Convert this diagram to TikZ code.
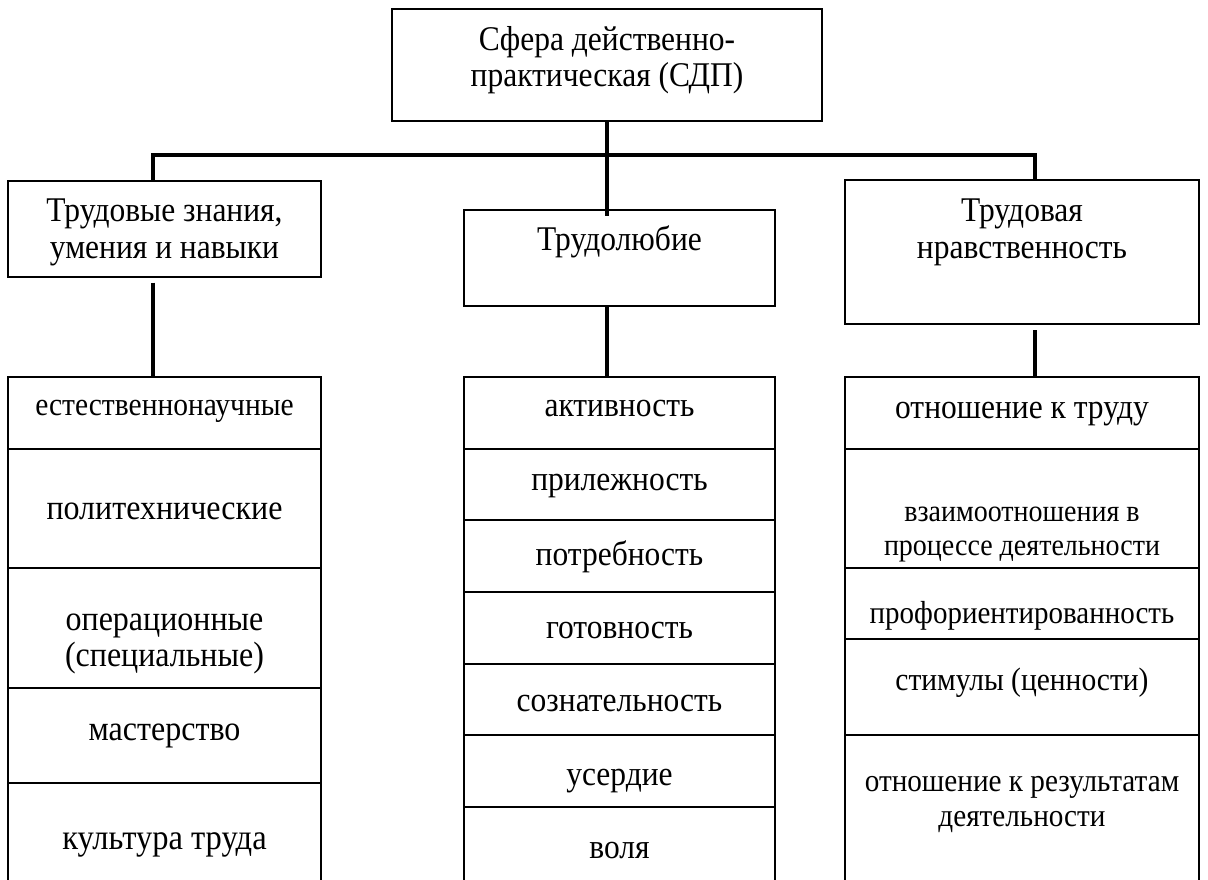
\documentclass[tikz,border=0pt]{standalone}
\usepackage{fontspec}
\usepackage{graphicx}
\setmainfont{Liberation Serif}
\newcommand\ml[1]{\begin{tabular}[t]{@{}c@{}}#1\end{tabular}}
\newcommand\st[1]{\scalebox{1}[1.1]{#1}}
\newcommand\fs[2]{\fontsize{#1}{#2}\selectfont}
\begin{document}
\begin{tikzpicture}[x=1pt,y=-1pt,
  box/.style={draw, line width=2pt, inner sep=0pt, outer sep=0pt, anchor=north west},
  txt/.style={anchor=base, inner sep=0pt, outer sep=0pt, font=\fs{31.5}{33.6}},
  conn/.style={line width=4.5pt, line join=miter}]
\useasboundingbox (0,0) rectangle (1208,879);
% top level
\node[box, minimum width=430pt, minimum height=111.7pt] (top) at (392,9.3) {};
\node[txt] (topT) at (607,50) {\st{\ml{Сфера действенно-\\практическая (СДП)}}};
% second level
\node[box, minimum width=312.3pt, minimum height=95.7pt] (lbox) at (8.4,181) {};
\node[txt] (lboxT) at (164.5,221.7) {\st{\ml{Трудовые знания,\\умения и навыки}}};
\node[box, minimum width=311pt, minimum height=96pt] (mbox) at (464,210) {};
\node[txt] (mboxT) at (619.5,250) {\st{Трудолюбие}};
\node[box, minimum width=354pt, minimum height=144pt] (rbox) at (845,180) {};
\node[txt] (rboxT) at (1022,221.7) {\st{\ml{Трудовая\\нравственность}}};
% left list
\node[box, minimum width=312.3pt, minimum height=71.7pt] (L1) at (8.4,377.3) {};
\node[box, minimum width=312.3pt, minimum height=118.7pt] (L2) at (8.4,449) {};
\node[box, minimum width=312.3pt, minimum height=120pt] (L3) at (8.4,567.7) {};
\node[box, minimum width=312.3pt, minimum height=95pt] (L4) at (8.4,687.7) {};
\node[box, minimum width=312.3pt, minimum height=110pt] (L5) at (8.4,782.7) {};
\node[txt, font=\fs{29.5}{33.6}] (L1T) at (164.5,415) {\st{естественнонаучные}};
\node[txt, font=\fs{32}{33.6}] (L2T) at (164.5,519.3) {\st{политехнические}};
\node[txt, font=\fs{32}{33.6}] (L3T) at (164.5,630) {\st{\ml{операционные\\(специальные)}}};
\node[txt, font=\fs{32}{33.6}] (L4T) at (164.5,740) {\st{мастерство}};
\node[txt, font=\fs{32.5}{33.6}] (L5T) at (164.5,849.3) {\st{культура труда}};
% middle list
\node[box, minimum width=311pt, minimum height=71.7pt] (M1) at (464,377.3) {};
\node[box, minimum width=311pt, minimum height=71pt] (M2) at (464,449) {};
\node[box, minimum width=311pt, minimum height=72.3pt] (M3) at (464,520) {};
\node[box, minimum width=311pt, minimum height=71.7pt] (M4) at (464,592.3) {};
\node[box, minimum width=311pt, minimum height=71pt] (M5) at (464,664) {};
\node[box, minimum width=311pt, minimum height=72.3pt] (M6) at (464,735) {};
\node[box, minimum width=311pt, minimum height=90pt] (M7) at (464,807.3) {};
\node[txt] (M1T) at (619.5,416) {\st{активность}};
\node[txt] (M2T) at (619.5,490) {\st{прилежность}};
\node[txt] (M3T) at (619.5,565) {\st{потребность}};
\node[txt] (M4T) at (619.5,638.3) {\st{готовность}};
\node[txt] (M5T) at (619.5,711.7) {\st{сознательность}};
\node[txt] (M6T) at (619.5,785) {\st{усердие}};
\node[txt] (M7T) at (619.5,858.3) {\st{воля}};
% right list
\node[box, minimum width=354pt, minimum height=71.7pt] (R1) at (845,377.3) {};
\node[box, minimum width=354pt, minimum height=118.7pt] (R2) at (845,449) {};
\node[box, minimum width=354pt, minimum height=71.6pt] (R3) at (845,567.7) {};
\node[box, minimum width=354pt, minimum height=95.7pt] (R4) at (845,639.3) {};
\node[box, minimum width=354pt, minimum height=160pt] (R5) at (845,735) {};
\node[txt] (R1T) at (1022,418.3) {\st{отношение к труду}};
\node[txt, font=\fs{28}{30.3}] (R2T) at (1022,521.7) {\st{\ml{взаимоотношения в\\процессе деятельности}}};
\node[txt, font=\fs{29}{33.6}] (R3T) at (1022,623.3) {\st{профориентированность}};
\node[txt, font=\fs{29.5}{33.6}] (R4T) at (1022,690) {\st{стимулы (ценности)}};
\node[txt, font=\fs{29.2}{31.8}] (R5T) at (1022,791.7) {\st{\ml{отношение к результатам\\деятельности}}};
% connectors
\coordinate (busL) at (153,155);
\coordinate (busR) at (1035,155);
\draw[conn, shorten >=-6pt] (top.south) -- (mbox.north -| top.south);
\draw[conn] (lbox.north -| busL) -- (busL) -- (busR) -- (rbox.north -| busR);
\draw[conn, shorten <=6pt] (lbox.south -| busL) -- (L1.north -| busL);
\draw[conn] (mbox.south -| top.south) -- (M1.north -| top.south);
\draw[conn, shorten <=6pt] (rbox.south -| busR) -- (R1.north -| busR);
\end{tikzpicture}
\end{document}
